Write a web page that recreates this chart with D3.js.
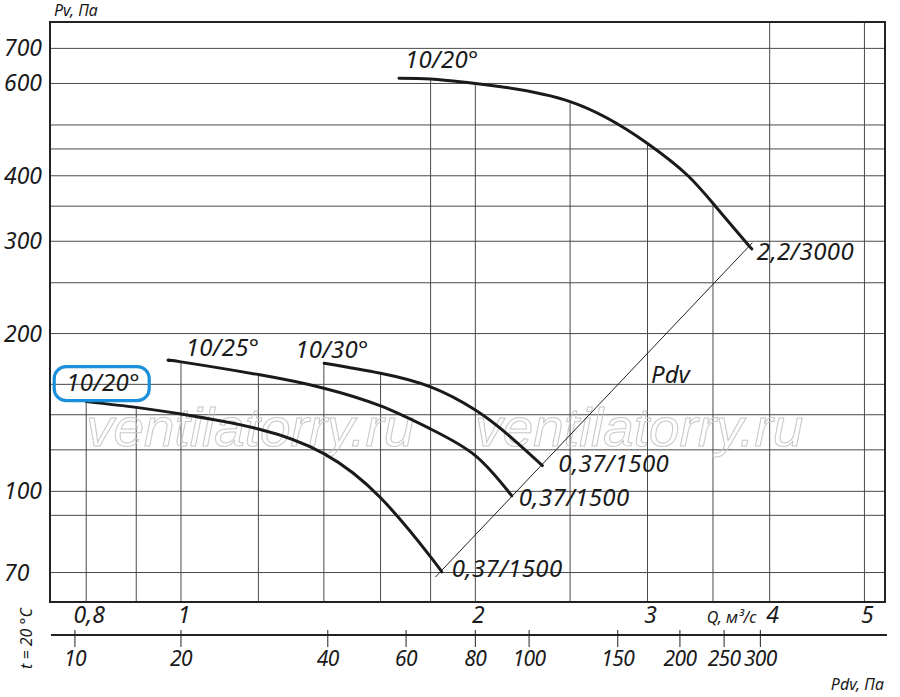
<!DOCTYPE html>
<html>
<head>
<meta charset="utf-8">
<script src="https://cdn.jsdelivr.net/npm/d3@7"></script>
<style>
  body { margin: 0; background: #fff; }
  text { font-family: "Noto Sans", sans-serif; font-style: italic; fill: #1a1a1a; }
</style>
</head>
<body>
<div id="chart"></div>
<script>
// Grid and tick values
const qGrid = [0.8, 0.9, 1, 1.2, 1.4, 1.6, 1.8, 2, 2.5, 3, 3.5, 4, 5];
const pGrid = [70, 90, 100, 120, 140, 160, 200, 250, 300, 350, 400, 450, 500, 600, 700];
const qTicks = [0.8, 1, 2, 3, 4, 5];
const pTicks = [70, 100, 200, 300, 400, 600, 700];

// Pdv scale under the chart: tick values and the Q they sit at
const pdvTicks = [10, 20, 40, 60, 80, 100, 150, 200, 250, 300];
const pdvTickQ = [0.779, 1.0, 1.413, 1.699, 2.0, 2.27, 2.797, 3.238, 3.593, 3.913];

// Fan curves (Q in m3/s, Pv in Pa)
const curveNames = ["10/20°", "10/25°", "10/30°", "10/20°"];
const curveEnds = ["0,37/1500", "0,37/1500", "0,37/1500", "2,2/3000"];

const curve1Q = [0.8, 0.9, 1.0, 1.2, 1.4, 1.6, 1.8, 1.848];
const curve1P = [148.3, 144.6, 140.4, 131.5, 118.0, 97.2, 75.0, 70.2];

const curve2Q = [0.974, 1.0, 1.2, 1.4, 1.6, 1.8, 2.0, 2.179];
const curve2P = [177.6, 176.6, 167.0, 157.3, 145.5, 131.5, 117.0, 98.1];

const curve3Q = [1.401, 1.6, 1.8, 2.0, 2.162, 2.342];
const curve3P = [175.6, 168.0, 158.2, 142.9, 128.0, 112.0];

const curve4Q = [1.671, 1.8, 2.0, 2.5, 3.0, 3.3, 3.52, 3.775, 3.835];
const curve4P = [614, 612, 600, 554, 461, 400, 350, 300, 290];

// Dynamic pressure line through curve ends
const pdvLineQ = [1.82, 3.84];
const pdvLineP = [68.6, 298];

// Dimensions
let dimensions = {
    width: 900,
    height: 697,
    margin: {top: 22, right: 15, bottom: 95, left: 50},
}
dimensions.boundedWidth = dimensions.width - dimensions.margin.left - dimensions.margin.right
dimensions.boundedHeight = dimensions.height - dimensions.margin.top - dimensions.margin.bottom

// Scales (log-log)
const xScale = d3.scaleLog()
    .domain([0.7346, 5.248])
    .range([0, dimensions.boundedWidth]);

const yScale = d3.scaleLog()
    .domain([61.5, 786])
    .range([dimensions.boundedHeight, 0]);

const comma = v => String(v).replace(".", ",");

const curves = [
    {name: curveNames[0], end: curveEnds[0], pts: d3.zip(curve1Q, curve1P)},
    {name: curveNames[1], end: curveEnds[1], pts: d3.zip(curve2Q, curve2P)},
    {name: curveNames[2], end: curveEnds[2], pts: d3.zip(curve3Q, curve3P)},
    {name: curveNames[3], end: curveEnds[3], pts: d3.zip(curve4Q, curve4P)},
];

const svg = d3.select("#chart")
    .append("svg")
        .attr("width", dimensions.width)
        .attr("height", dimensions.height)

const bounds = svg.append("g")
    .attr("transform", `translate(${dimensions.margin.left},${dimensions.margin.top})`)

const gridV = bounds.append("g")
const gridH = bounds.append("g")
const watermark = bounds.append("g")
const marks = bounds.append("g")
const labels = bounds.append("g")

// Horizontal grid lines run full width
gridH.selectAll("line")
    .data(pGrid)
    .join("line")
        .attr("x1", 0)
        .attr("x2", dimensions.boundedWidth)
        .attr("y1", d => yScale(d))
        .attr("y2", d => yScale(d))
        .style("stroke", "#4a4a4a")
        .style("stroke-width", 1)

// Watermark
watermark.selectAll("text")
    .data([0.8, 2.0])
    .join("text")
        .attr("x", d => xScale(d))
        .attr("y", yScale(130) + 14)
        .attr("textLength", 328)
        .attr("lengthAdjust", "spacingAndGlyphs")
        .style("font-family", "'Liberation Sans', sans-serif")
        .style("font-size", "53px")
        .style("fill", "none")
        .style("stroke", "#c8c8c8")
        .style("stroke-width", 1)
        .text("ventilatorry.ru")

// Curves
const line = d3.line()
    .x(d => xScale(d[0]))
    .y(d => yScale(d[1]))
    .curve(d3.curveNatural)

marks.append("path")
    .datum(d3.zip(pdvLineQ, pdvLineP))
    .attr("d", d3.line().x(d => xScale(d[0])).y(d => yScale(d[1])))
    .style("fill", "none")
    .style("stroke", "#222")
    .style("stroke-width", 1)

const curvePaths = marks.selectAll("path.curve")
    .data(curves)
    .join("path")
        .attr("class", "curve")
        .attr("d", d => line(d.pts))
        .style("fill", "none")
        .style("stroke", "#1a1a1a")
        .style("stroke-width", 3)
        .style("stroke-linecap", "round")

// Vertical grid lines start under the highest curve above them
function topUnderCurves(px) {
    let best = null;
    curvePaths.each(function() {
        const len = this.getTotalLength();
        const a = this.getPointAtLength(0), b = this.getPointAtLength(len);
        if (px < a.x - 1.5 || px > b.x + 1.5) return;
        let lo = 0, hi = len;
        for (let i = 0; i < 30; i++) {
            const mid = (lo + hi) / 2;
            if (this.getPointAtLength(mid).x < px) lo = mid; else hi = mid;
        }
        const y = this.getPointAtLength(lo).y;
        if (best === null || y < best) best = y;
    });
    return best === null ? 0 : best;
}

gridV.selectAll("line")
    .data(qGrid)
    .join("line")
        .attr("x1", d => xScale(d))
        .attr("x2", d => xScale(d))
        .attr("y1", d => topUnderCurves(xScale(d)))
        .attr("y2", dimensions.boundedHeight)
        .style("stroke", "#4a4a4a")
        .style("stroke-width", 1)

// Frame
bounds.append("rect")
    .attr("width", dimensions.boundedWidth)
    .attr("height", dimensions.boundedHeight)
    .style("fill", "none")
    .style("stroke", "#222")
    .style("stroke-width", 2)

// Curve name labels (hand placed near the curve starts)
const nameOffsets = [[-20, -11], [16, -5], [-29, -5], [6, -10]];
curves.forEach((c, i) => {
    const sx = xScale(c.pts[0][0]) + nameOffsets[i][0];
    const sy = yScale(c.pts[0][1]) + nameOffsets[i][1];
    if (i === 0) {
        labels.append("rect")
            .attr("x", sx - 12)
            .attr("y", sy - 24)
            .attr("width", 95)
            .attr("height", 34)
            .attr("rx", 12)
            .style("fill", "none")
            .style("stroke", "#1c8fdb")
            .style("stroke-width", 3.2)
    }
    labels.append("text")
        .attr("x", sx)
        .attr("y", sy)
        .style("font-size", "24px")
        .style("letter-spacing", "0.3px")
        .text(c.name)
});

// Motor labels at curve ends
const endOffsets = [[10, 5], [7, 10], [16, 6], [5, 11]];
curves.forEach((c, i) => {
    const last = c.pts[c.pts.length - 1];
    labels.append("text")
        .attr("x", xScale(last[0]) + endOffsets[i][0])
        .attr("y", yScale(last[1]) + endOffsets[i][1])
        .style("font-size", "24px")
        .style("letter-spacing", "0.4px")
        .text(c.end)
});

labels.append("text")
    .attr("x", xScale(3.025))
    .attr("y", yScale(160.8))
    .style("font-size", "24px")
    .text("Pdv")

// Y tick labels
labels.selectAll("text.ytick")
    .data(pTicks)
    .join("text")
        .attr("class", "ytick")
        .attr("x", -46)
        .attr("y", d => yScale(d) + 8)
        .style("font-size", "23px")
        .text(d => d)

// X tick labels
labels.selectAll("text.xtick")
    .data(qTicks)
    .join("text")
        .attr("class", "xtick")
        .attr("x", d => xScale(d) + 3)
        .attr("y", dimensions.boundedHeight + 21)
        .attr("text-anchor", "middle")
        .style("font-size", "23px")
        .text(d => comma(d))

labels.append("text")
    .attr("x", 4)
    .attr("y", -6)
    .style("font-size", "16px")
    .text("Pv, Па")

labels.append("text")
    .attr("x", xScale(3.45))
    .attr("y", dimensions.boundedHeight + 21)
    .style("font-size", "16px")
    .text("Q, м³/с")

// Pdv axis
const pdvY = dimensions.boundedHeight + 33;
const pdvAxis = bounds.append("g")

pdvAxis.append("line")
    .attr("x1", 1)
    .attr("x2", dimensions.boundedWidth + 2)
    .attr("y1", pdvY)
    .attr("y2", pdvY)
    .style("stroke", "#222")
    .style("stroke-width", 2)

pdvAxis.selectAll("line.tick")
    .data(d3.zip(pdvTicks, pdvTickQ))
    .join("line")
        .attr("class", "tick")
        .attr("x1", d => xScale(d[1]))
        .attr("x2", d => xScale(d[1]))
        .attr("y1", pdvY - 5)
        .attr("y2", pdvY + 12)
        .style("stroke", "#222")
        .style("stroke-width", 1)

pdvAxis.selectAll("text")
    .data(d3.zip(pdvTicks, pdvTickQ))
    .join("text")
        .attr("x", d => xScale(d[1]))
        .attr("y", pdvY + 31)
        .attr("text-anchor", "middle")
        .style("font-size", "21px")
        .style("letter-spacing", "-0.6px")
        .text(d => d[0])

labels.append("text")
    .attr("x", dimensions.boundedWidth - 1)
    .attr("y", dimensions.boundedHeight + 88)
    .attr("text-anchor", "end")
    .style("font-size", "16px")
    .text("Pdv, Па")

labels.append("text")
    .attr("transform", `translate(-18,${dimensions.boundedHeight + 67}) rotate(-90)`)
    .style("font-size", "16px")
    .text("t = 20 °C")
</script>
</body>
</html>
